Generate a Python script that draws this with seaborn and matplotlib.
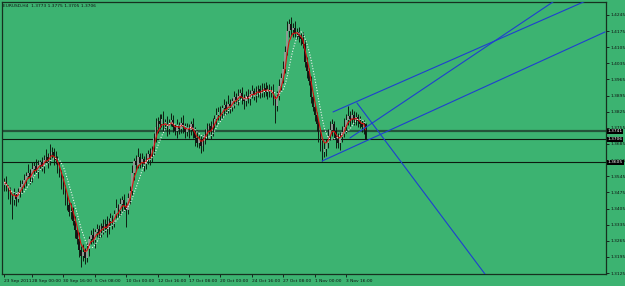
import numpy as np
import pandas as pd
import matplotlib
matplotlib.use("Agg")
import matplotlib.pyplot as plt
from matplotlib import font_manager
import seaborn as sns

# ---------------- data ----------------
closes = [
    1.3520, 1.3495, 1.3478, 1.3452, 1.3440, 1.3462, 1.3448, 1.3475, 1.3498, 1.3512,
    1.3530, 1.3548, 1.3560, 1.3541, 1.3578, 1.3590, 1.3572, 1.3596, 1.3605, 1.3588,
    1.3615, 1.3630, 1.3612, 1.3640, 1.3652, 1.3628, 1.3615, 1.3585, 1.3560, 1.3518,
    1.3490, 1.3452, 1.3420, 1.3388, 1.3395, 1.3350, 1.3310, 1.3275, 1.3225, 1.3198,
    1.3215, 1.3190, 1.3230, 1.3272, 1.3290, 1.3268, 1.3302, 1.3315, 1.3298, 1.3330,
    1.3322, 1.3340, 1.3318, 1.3350, 1.3362, 1.3345, 1.3380, 1.3408, 1.3395, 1.3425,
    1.3440, 1.3418, 1.3400, 1.3450, 1.3480, 1.3560, 1.3610, 1.3595, 1.3630, 1.3605,
    1.3620, 1.3598, 1.3615, 1.3640, 1.3625, 1.3660, 1.3712, 1.3760, 1.3785, 1.3772,
    1.3795, 1.3768, 1.3780, 1.3752, 1.3775, 1.3790, 1.3760, 1.3742, 1.3765, 1.3750,
    1.3778, 1.3760, 1.3735, 1.3752, 1.3745, 1.3770, 1.3740, 1.3712, 1.3690, 1.3705,
    1.3675, 1.3700, 1.3730, 1.3748, 1.3762, 1.3740, 1.3770, 1.3795, 1.3810, 1.3825,
    1.3815, 1.3840, 1.3852, 1.3835, 1.3860, 1.3848, 1.3872, 1.3890, 1.3875, 1.3895,
    1.3905, 1.3885, 1.3870, 1.3892, 1.3880, 1.3900, 1.3915, 1.3898, 1.3910, 1.3922,
    1.3905, 1.3918, 1.3930, 1.3912, 1.3925, 1.3908, 1.3920, 1.3880, 1.3850, 1.3895,
    1.3935, 1.3970, 1.4010, 1.4085, 1.4175, 1.4205, 1.4180, 1.4190, 1.4165, 1.4172,
    1.4150, 1.4140, 1.4120, 1.4040, 1.4000, 1.3960, 1.3890, 1.3845, 1.3810, 1.3770,
    1.3725, 1.3680, 1.3650, 1.3665, 1.3690, 1.3720, 1.3745, 1.3770, 1.3740, 1.3705,
    1.3690, 1.3715, 1.3735, 1.3760, 1.3790, 1.3805, 1.3795, 1.3810, 1.3790, 1.3800,
    1.3785, 1.3772, 1.3760, 1.3773, 1.3706,
]
first_open = 1.3505
up_wick_pips = [
    18, 27, 12, 22, 15, 33, 14, 21, 30, 17, 24, 14, 37, 18, 27, 15, 31, 20, 12, 25,
    21, 33, 15, 45, 18, 14, 27, 17, 22, 12, 30, 18, 14, 24, 33, 15, 21, 12, 28, 17,
    36, 20, 27, 14, 22, 31, 15, 25, 18, 12, 28, 21, 33, 15, 24, 14, 20, 37, 17, 27,
    18, 30, 14, 22, 21, 33, 15, 27, 39, 18, 24, 14, 31, 20, 27, 15, 22, 36, 17, 28,
    20, 33, 14, 25, 18, 30, 21, 12, 27, 17, 22, 31, 15, 24, 20, 14, 28, 18, 34, 21,
    15, 25, 18, 30, 14, 22, 27, 17, 33, 20, 24, 15, 28, 18, 36, 21, 14, 25, 17, 30,
    20, 27, 15, 22, 31, 18, 24, 14, 28, 21, 17, 30, 20, 25, 15, 22, 18, 27, 14, 21,
    30, 24, 37, 27, 45, 21, 30, 18, 27, 15, 22, 18, 30, 15, 24, 14, 21, 18, 15, 12,
    18, 15, 22, 27, 18, 30, 40, 22, 15, 18, 27, 21, 30, 37, 24, 44, 21, 27, 18, 22,
    15, 21, 18, 14, 2,
]
down_wick_pips = [
    22, 15, 33, 27, 80, 18, 30, 14, 21, 24, 17, 28, 12, 31, 20, 25, 15, 36, 18, 22,
    27, 14, 30, 18, 21, 34, 15, 24, 17, 28, 20, 31, 22, 15, 27, 18, 33, 24, 30, 45,
    21, 27, 17, 30, 22, 14, 33, 20, 25, 15, 27, 18, 37, 22, 15, 30, 21, 17, 28, 20,
    33, 22, 75, 18, 27, 15, 30, 21, 14, 25, 18, 30, 22, 15, 33, 20, 24, 17, 28, 21,
    15, 27, 20, 31, 22, 14, 25, 18, 30, 21, 17, 28, 24, 15, 33, 20, 27, 37, 18, 22,
    30, 21, 15, 25, 18, 33, 22, 14, 27, 20, 24, 17, 30, 21, 15, 27, 20, 31, 18, 22,
    15, 25, 33, 21, 18, 28, 17, 24, 30, 20, 22, 15, 27, 18, 30, 21, 17, 25, 75, 20,
    18, 15, 22, 18, 15, 27, 21, 30, 18, 24, 21, 27, 18, 22, 30, 21, 27, 18, 24, 30,
    33, 27, 38, 22, 30, 21, 18, 27, 33, 37, 24, 30, 21, 18, 27, 22, 30, 18, 24, 21,
    27, 18, 22, 30, 1,
]
tick_bars = [0, 14, 30, 46, 62, 78, 94, 110, 126, 142, 158, 174]
tick_labels = ["23 Sep 2011", "28 Sep 00:00", "30 Sep 16:00", "5 Oct 08:00",
               "10 Oct 00:00", "12 Oct 16:00", "17 Oct 08:00", "20 Oct 00:00",
               "24 Oct 16:00", "27 Oct 08:00", "1 Nov 00:00", "3 Nov 16:00"]
price_ticks = [1.3125, 1.3195, 1.3265, 1.3335, 1.3405, 1.3475, 1.3545, 1.3615,
               1.3685, 1.3755, 1.3825, 1.3895, 1.3965, 1.4035, 1.4105, 1.4175, 1.4245]
level_prices = [1.3741, 1.3706, 1.3605]
level_colors = ["#24553a", "#0c1a10", "#0c1a10"]
level_widths = [1.6, 0.8, 0.8]
# trend lines: (bar, price) start and end
trend_lines = [
    ((161.8, 1.3611), (306.0, 1.4171)),   # lower channel
    ((167.4, 1.3824), (297.4, 1.4310)),   # upper channel
    ((179.6, 1.3863), (244.8, 1.3121)),   # descending line
    ((176.0, 1.3711), (281.0, 1.4310)),   # steep line
]
title_text = "EURUSD,H4  1.3773 1.3775 1.3705 1.3706"

# ---------------- build frame ----------------
n = len(closes)
bars = np.arange(n)
opens = [first_open] + closes[:-1]
df = pd.DataFrame({"bar": bars, "open": opens, "close": closes})
df["high"] = df[["open", "close"]].max(axis=1) + np.array(up_wick_pips) * 1e-4
df["low"] = df[["open", "close"]].min(axis=1) - np.array(down_wick_pips) * 1e-4
df["fast"] = df["close"].ewm(span=4, adjust=False).mean()
df["slow"] = df["close"].rolling(8, min_periods=1).mean()

GREEN = "#3cb371"
sns.set_theme(style="white")
try:
    font_manager.findfont(font_manager.FontProperties(family="Liberation Sans Narrow"),
                          fallback_to_default=False)
    FAM, FS = "Liberation Sans Narrow", 4.3
except Exception:
    FAM, FS = "DejaVu Sans", 3.2
plt.rcParams["font.family"] = [FAM, "DejaVu Sans"]

fig = plt.figure(figsize=(6.25, 2.86), dpi=100, facecolor=GREEN)
ax = fig.add_axes([2 / 625, 12 / 286, 604 / 625, 272 / 286])
ax.set_facecolor(GREEN)

xmin, xmax = -1.27, 306.5
ymin, ymax = 1.3121, 1.4301

# level lines
for p, c, w in zip(level_prices, level_colors, level_widths):
    ax.axhline(p, color=c, lw=w, zorder=1)

# candles
up = df["close"] >= df["open"]
ax.vlines(df["bar"], df["low"], df["high"], color="#0d1f12", lw=0.7, zorder=2)
body_h = (df["close"] - df["open"]).abs().clip(lower=0.00012)
body_b = df[["open", "close"]].min(axis=1)
ax.bar(df["bar"][up], body_h[up], bottom=body_b[up], width=0.8,
       color="#8e9a92", edgecolor="none", zorder=3)
ax.bar(df["bar"][~up], body_h[~up], bottom=body_b[~up], width=0.8,
       color="#141414", edgecolor="none", zorder=3)

# moving averages
sns.lineplot(data=df, x="bar", y="fast", ax=ax, color="#d81010", lw=0.8, zorder=4)
sns.lineplot(data=df, x="bar", y="slow", ax=ax, color="#f0f0f0", lw=0.8,
             linestyle=(0, (1, 1.5)), zorder=4)

# trend lines
for (x0, y0), (x1, y1) in trend_lines:
    ax.plot([x0, x1], [y0, y1], color="#1f3fd0", lw=0.8, zorder=5)

ax.set_xlim(xmin, xmax)
ax.set_ylim(ymin, ymax)
ax.set_xlabel("")
ax.set_ylabel("")

# axes styling
for s in ax.spines.values():
    s.set_color("#16301f")
    s.set_linewidth(0.9)
ax.yaxis.tick_right()
ax.set_yticks(price_ticks)
ax.set_yticklabels([f"{p:.4f}" for p in price_ticks])
ax.tick_params(axis="y", direction="out", length=2, width=0.6, color="#101010",
               labelsize=FS, labelcolor="#101010", pad=1.0, right=True, left=False)
ax.set_xticks(tick_bars)
ax.set_xticklabels(tick_labels)
ax.tick_params(axis="x", direction="out", length=2.5, width=0.6, color="#101010",
               labelsize=FS, labelcolor="#101010", pad=1.2, bottom=True)
for lbl in ax.get_xticklabels():
    lbl.set_horizontalalignment("left")

# level labels on the price scale
for p in level_prices:
    ax.text(1.003, p, f"{p:.4f}", transform=ax.get_yaxis_transform(),
            ha="left", va="center", fontsize=FS, color="white", zorder=10,
            bbox=dict(boxstyle="square,pad=0.12", fc="#000000", ec="none"),
            clip_on=False)

ax.text(0.002, 0.992, title_text, transform=ax.transAxes, ha="left", va="top",
        fontsize=FS, color="#101010")

fig.savefig("out.png", dpi=100, facecolor=GREEN)
